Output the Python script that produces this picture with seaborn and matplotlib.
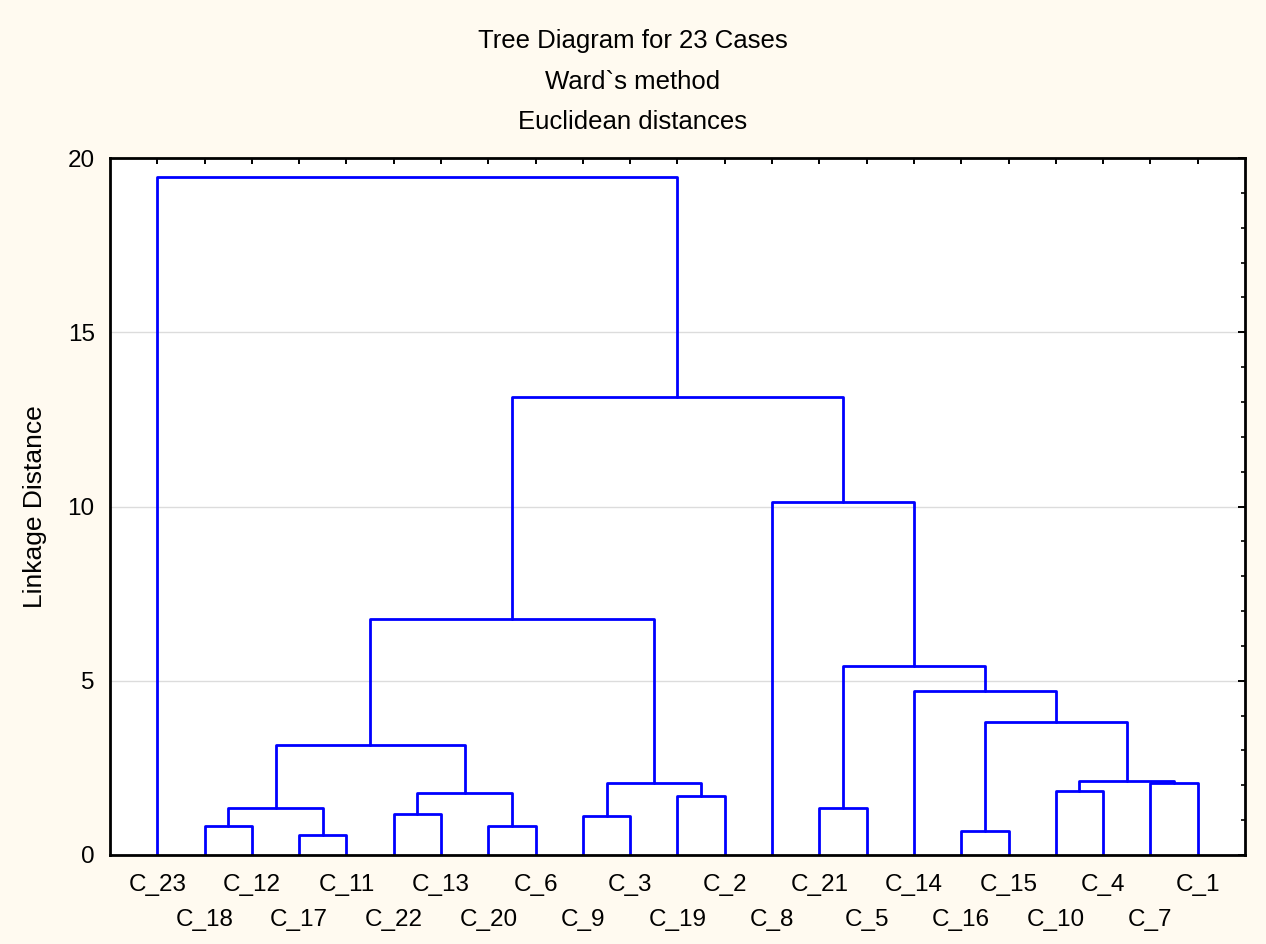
import numpy as np
import pandas as pd
import seaborn as sns
import matplotlib
matplotlib.use("Agg")
import matplotlib.pyplot as plt
from matplotlib.ticker import MultipleLocator

# leaf labels in the order they appear along the x axis
leaves = ["C_23", "C_18", "C_12", "C_17", "C_11", "C_22", "C_13", "C_20", "C_6",
          "C_9", "C_3", "C_19", "C_2", "C_8", "C_21", "C_5", "C_14", "C_16",
          "C_15", "C_10", "C_4", "C_7", "C_1"]

# merges: (left node, right node); leaves are 0..22, new clusters get 23, 24, ...
merge_left = [1, 3, 23, 5, 7, 26, 25, 9, 11, 30, 29, 14, 17, 19, 21, 36, 35, 16, 34, 13, 33, 0]
merge_right = [2, 4, 24, 6, 8, 27, 28, 10, 12, 31, 32, 15, 18, 20, 22, 37, 38, 39, 40, 41, 42, 43]
merge_height = [0.82, 0.57, 1.35, 1.17, 0.83, 1.77, 3.16, 1.11, 1.69, 2.07, 6.76,
                1.35, 0.70, 1.83, 2.07, 2.12, 3.82, 4.71, 5.43, 10.13, 13.13, 19.46]

title_lines = ["Tree Diagram for 23 Cases", "Ward`s method", "Euclidean distances"]


def build_segments():
    """Turn the merge list into U-shaped link polylines."""
    n = len(leaves)
    xpos = {i: i + 1.0 for i in range(n)}
    ypos = {i: 0.0 for i in range(n)}
    rows = []
    for k, (a, b, h) in enumerate(zip(merge_left, merge_right, merge_height)):
        node = n + k
        for px, py in [(xpos[a], ypos[a]), (xpos[a], h), (xpos[b], h), (xpos[b], ypos[b])]:
            rows.append({"seg": k, "x": px, "y": py})
        xpos[node] = (xpos[a] + xpos[b]) / 2
        ypos[node] = h
    return pd.DataFrame(rows)


def main():
    sns.set_style("white")
    plt.rcParams["font.family"] = ["Liberation Sans", "DejaVu Sans"]
    for key in ["text.color", "axes.labelcolor", "xtick.color", "ytick.color"]:
        plt.rcParams[key] = "black"

    bg = "#fffaf0"
    fig = plt.figure(figsize=(12.66, 9.44), dpi=100, facecolor=bg)
    ax = fig.add_axes([0.0869, 0.0943, 0.8965, 0.7383])
    ax.set_facecolor("white")

    seg = build_segments()
    sns.lineplot(data=seg, x="x", y="y", units="seg", estimator=None, sort=False,
                 color="#0000ff", lw=2.0, ax=ax, legend=False)

    ax.set_xlim(0, 24)
    ax.set_ylim(0, 20)
    ax.yaxis.set_major_locator(MultipleLocator(5))
    ax.yaxis.set_minor_locator(MultipleLocator(1))

    pos = np.arange(1, len(leaves) + 1)
    ax.set_xticks(pos[::2], leaves[::2])
    ax.set_xticks(pos[1::2], leaves[1::2], minor=True)

    ax.grid(axis="y", which="major", color="#dcdcdc", lw=1.0)
    ax.set_axisbelow(True)

    for s in ax.spines.values():
        s.set_visible(True)
        s.set_color("black")
        s.set_linewidth(2.0)

    ax.tick_params(axis="both", which="both", direction="in", color="black",
                   top=True, right=True, labelsize=17.5)
    ax.tick_params(axis="y", which="major", length=5, width=1.4, pad=11)
    ax.tick_params(axis="y", which="minor", length=3, width=1.2)
    ax.tick_params(axis="x", which="both", length=4, width=1.4)
    ax.tick_params(axis="x", which="major", pad=14)
    ax.tick_params(axis="x", which="minor", pad=39)

    ax.set_xlabel("")
    ax.set_ylabel("Linkage Distance", fontsize=19)
    ax.yaxis.set_label_coords(-0.0555, 0.5)

    for line, yy in zip(title_lines, [0.9565, 0.9135, 0.8711]):
        fig.text(0.5, yy, line, ha="center", va="center", fontsize=18.5)

    fig.savefig("out.png", dpi=100, facecolor=bg)


if __name__ == "__main__":
    main()
